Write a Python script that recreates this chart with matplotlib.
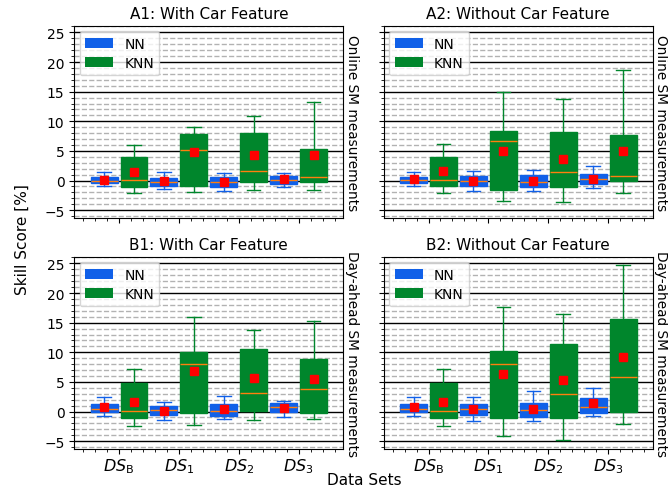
import matplotlib
matplotlib.use('Agg')
import matplotlib.pyplot as plt
from matplotlib.patches import Patch
from matplotlib.ticker import AutoMinorLocator, MultipleLocator

datasets = [r'$DS_{\rm B}$', r'$DS_1$', r'$DS_2$', r'$DS_3$']
titles = ['A1: With Car Feature', 'A2: Without Car Feature',
          'B1: With Car Feature', 'B2: Without Car Feature']
row_labels = ['Online SM measurements', 'Day-ahead SM measurements']

# per panel: whisker low, q1, median, q3, whisker high, mean (one value per data set)
a1_nn_lo = [-0.9, -1.46, -1.8, -1.12]
a1_nn_q1 = [-0.45, -0.84, -1.12, -0.62]
a1_nn_med = [0.0, -0.17, -0.28, 0.17]
a1_nn_q3 = [0.56, 0.5, 0.56, 0.73]
a1_nn_hi = [1.4, 1.4, 1.24, 1.3]
a1_nn_mean = [0.17, -0.06, -0.17, 0.22]
a1_knn_lo = [-2.13, -1.97, -1.52, -1.57]
a1_knn_q1 = [-1.12, -0.84, -0.17, -0.28]
a1_knn_med = [0.17, 5.17, 1.57, 0.67]
a1_knn_q3 = [3.93, 7.87, 7.98, 5.28]
a1_knn_hi = [6.07, 9.1, 10.96, 13.3]
a1_knn_mean = [1.5, 4.78, 4.33, 4.3]

a2_nn_lo = [-0.84, -1.74, -1.74, -1.23]
a2_nn_q1 = [-0.39, -0.95, -1.12, -0.5]
a2_nn_med = [0.06, -0.11, -0.22, 0.22]
a2_nn_q3 = [0.62, 0.73, 0.9, 1.18]
a2_nn_hi = [1.46, 1.63, 1.85, 2.41]
a2_nn_mean = [0.22, -0.06, 0.0, 0.34]
a2_knn_lo = [-2.07, -3.48, -3.7, -2.07]
a2_knn_q1 = [-1.0, -1.63, -1.12, -0.06]
a2_knn_med = [0.17, 6.67, 1.46, 0.79]
a2_knn_q3 = [3.98, 8.3, 8.18, 7.74]
a2_knn_hi = [6.17, 14.9, 13.8, 18.6]
a2_knn_mean = [1.57, 4.93, 3.65, 5.0]

b1_nn_lo = [-0.68, -1.36, -1.24, -0.85]
b1_nn_q1 = [-0.11, -0.51, -0.68, 0.0]
b1_nn_med = [0.45, 0.23, 0.11, 0.73]
b1_nn_q3 = [1.19, 1.02, 1.24, 1.41]
b1_nn_hi = [2.43, 1.69, 2.54, 1.86]
b1_nn_mean = [0.73, 0.11, 0.4, 0.68]
b1_knn_lo = [-2.49, -2.2, -1.41, -1.3]
b1_knn_q1 = [-1.13, -0.17, 0.17, -0.23]
b1_knn_med = [0.17, 7.97, 3.16, 3.73]
b1_knn_q3 = [4.8, 10.06, 10.56, 8.81]
b1_knn_hi = [7.12, 15.9, 13.8, 15.25]
b1_knn_mean = [1.69, 6.89, 5.59, 5.48]

b2_nn_lo = [-0.73, -1.53, -1.64, -0.79]
b2_nn_q1 = [-0.11, -0.51, -0.85, -0.17]
b2_nn_med = [0.51, 0.4, 0.34, 0.73]
b2_nn_q3 = [1.24, 1.24, 1.47, 2.26]
b2_nn_hi = [2.43, 2.43, 3.39, 3.9]
b2_nn_mean = [0.79, 0.4, 0.51, 1.36]
b2_knn_lo = [-2.49, -4.18, -4.86, -2.09]
b2_knn_q1 = [-1.13, -1.07, -1.07, 0.0]
b2_knn_med = [0.17, 8.08, 2.88, 5.88]
b2_knn_q3 = [4.8, 10.28, 11.41, 15.54]
b2_knn_hi = [7.12, 17.57, 16.44, 24.7]
b2_knn_mean = [1.69, 6.27, 5.37, 9.2]

panels = [
    ((a1_nn_lo, a1_nn_q1, a1_nn_med, a1_nn_q3, a1_nn_hi, a1_nn_mean),
     (a1_knn_lo, a1_knn_q1, a1_knn_med, a1_knn_q3, a1_knn_hi, a1_knn_mean)),
    ((a2_nn_lo, a2_nn_q1, a2_nn_med, a2_nn_q3, a2_nn_hi, a2_nn_mean),
     (a2_knn_lo, a2_knn_q1, a2_knn_med, a2_knn_q3, a2_knn_hi, a2_knn_mean)),
    ((b1_nn_lo, b1_nn_q1, b1_nn_med, b1_nn_q3, b1_nn_hi, b1_nn_mean),
     (b1_knn_lo, b1_knn_q1, b1_knn_med, b1_knn_q3, b1_knn_hi, b1_knn_mean)),
    ((b2_nn_lo, b2_nn_q1, b2_nn_med, b2_nn_q3, b2_nn_hi, b2_nn_mean),
     (b2_knn_lo, b2_knn_q1, b2_knn_med, b2_knn_q3, b2_knn_hi, b2_knn_mean)),
]

nn_color = '#1060e8'
knn_color = '#00862c'


def make_stats(lo, q1, med, q3, hi, mean):
    return [dict(whislo=lo[i], q1=q1[i], med=med[i], q3=q3[i], whishi=hi[i],
                 mean=mean[i], fliers=[]) for i in range(len(med))]


def draw(ax, stats, positions, color):
    ax.bxp(stats, positions=positions, widths=0.45, patch_artist=True,
           showmeans=True, showfliers=False,
           boxprops=dict(facecolor=color, edgecolor=color, linewidth=1),
           whiskerprops=dict(color=color, linewidth=1),
           capprops=dict(color=color, linewidth=1),
           medianprops=dict(color='#ff7f0e', linewidth=1),
           meanprops=dict(marker='s', markerfacecolor='red',
                          markeredgecolor='red', markersize=6))


fig, axes = plt.subplots(2, 2, figsize=(6.68, 4.89), dpi=100, sharex=True, sharey=True)
fig.subplots_adjust(left=0.111, right=0.9775, top=0.945, bottom=0.08,
                    wspace=0.149, hspace=0.203)

pos = list(range(1, len(datasets) + 1))
for k, ax in enumerate(axes.flat):
    nn, knn = panels[k]
    draw(ax, make_stats(*nn), [p - 0.25 for p in pos], nn_color)
    draw(ax, make_stats(*knn), [p + 0.25 for p in pos], knn_color)

    ax.set_axisbelow(True)
    ax.yaxis.set_major_locator(MultipleLocator(5))
    ax.yaxis.set_minor_locator(AutoMinorLocator(5))
    ax.xaxis.set_minor_locator(AutoMinorLocator(5))
    ax.grid(True, which='major', axis='y', color='black', linewidth=1)
    ax.grid(True, which='minor', axis='y', color='gray', linestyle='--',
            linewidth=1, alpha=0.6)
    ax.set_title(titles[k], fontsize=11)
    ax.text(1.004, 0.5, row_labels[k // 2], transform=ax.transAxes,
            rotation=270, va='center', ha='left', fontsize=9.8)
    ax.legend(handles=[Patch(facecolor=nn_color, label='NN'),
                       Patch(facecolor=knn_color, label='KNN')],
              loc='upper left', fontsize=10, handlelength=2.0,
              labelspacing=0.35, borderpad=0.4, borderaxespad=0.4)
    ax.tick_params(axis='y', labelsize=10)
    ax.tick_params(axis='x', labelsize=11.5, pad=1.5)

axes[0, 0].set_xlim(0.25, 4.75)
axes[0, 0].set_ylim(-6.3, 26.1)
axes[0, 0].set_xticks(pos)
axes[0, 0].set_xticklabels(datasets)

fig.text(0.033, 0.51, 'Skill Score [%]', rotation=90, va='center', ha='center', fontsize=11)
fig.text(0.545, 0.017, 'Data Sets', va='center', ha='center', fontsize=11)

plt.savefig('out.png', dpi=100)
